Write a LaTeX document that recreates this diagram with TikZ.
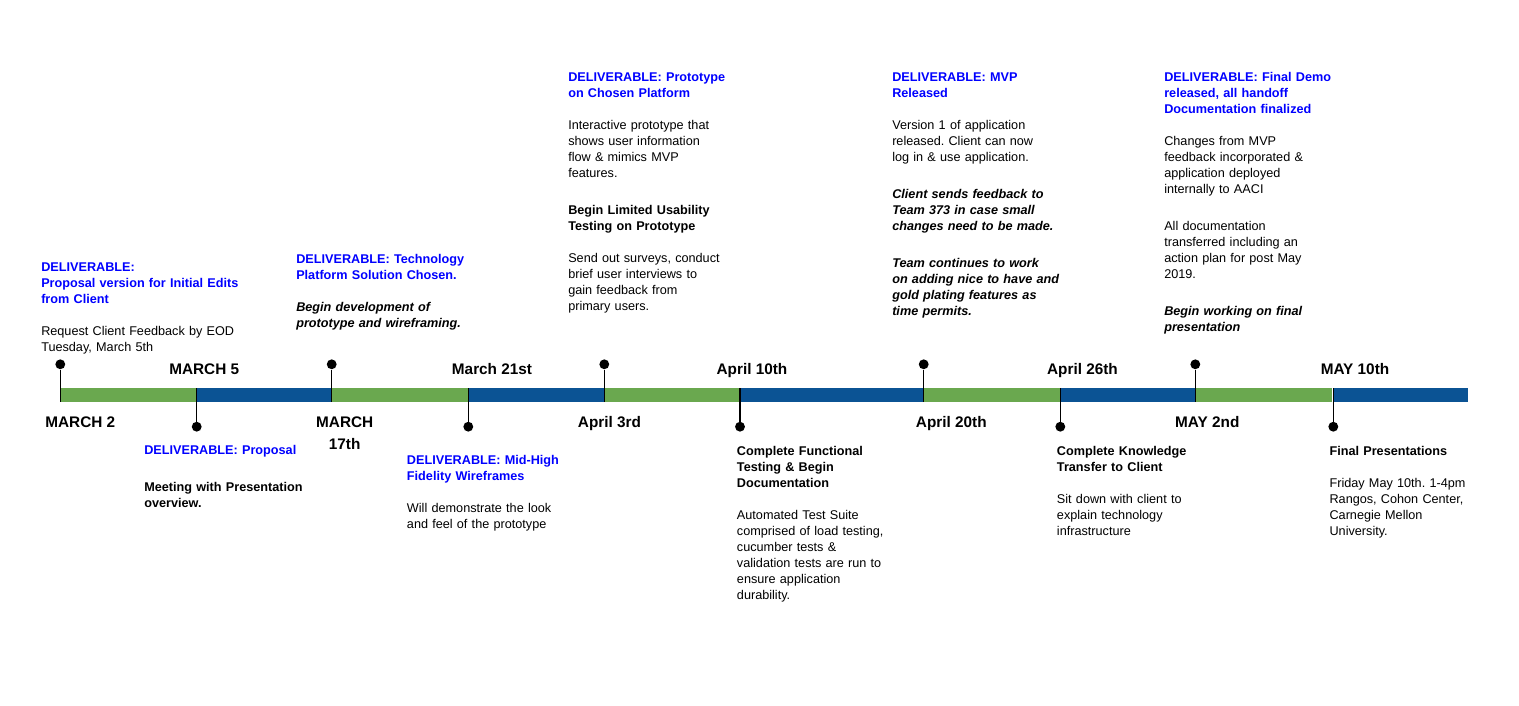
\documentclass[tikz,border=0pt]{standalone}
\usepackage{fontspec}
\setmainfont{Liberation Sans}
\usepackage{xcolor}
\usepackage{tikz}
\usetikzlibrary{positioning}
\usetikzlibrary{calc}
\definecolor{tlgreen}{HTML}{6AA84F}
\definecolor{tlblue}{HTML}{0B5394}
\definecolor{dlvblue}{HTML}{0000FF}
\newcommand{\gap}{\\[12pt]}
\newcommand{\wgap}{\\[15.75pt]}
\frenchspacing

\begin{document}
\begin{tikzpicture}[
  x=0.75pt, y=-0.75pt,
  note/.style={
    font=\fontsize{9.5}{12}\selectfont,
    align=left,
    text width=150pt,
    anchor=north west,
    inner sep=0pt},
  datelbl/.style={
    font=\fontsize{11.5}{16.5}\selectfont\bfseries,
    inner sep=0pt,
    anchor=base},
  pindot/.style={
    circle,
    fill=black,
    inner sep=0pt,
    minimum size=7.4pt},
  pinline/.style={line width=1pt},
]

  \useasboundingbox (0,0) rectangle (1519,706);

  \def\bartop{388}%
  \def\barbot{402}%

  % Timeline bar
  \foreach \from/\to/\col in {60/196.7/tlgreen, 196.7/331.7/tlblue,
      331.7/468.3/tlgreen, 468.3/604.3/tlblue, 604.3/740/tlgreen,
      740/923.7/tlblue, 923.7/1060.3/tlgreen, 1060.3/1195.3/tlblue,
      1195.3/1332.3/tlgreen, 1333.3/1468.3/tlblue} {
    \fill[\col] (\from,\bartop) rectangle (\to,\barbot);
  }

  % Pins above the bar
  \foreach \x [count=\i] in {60.3,331.7,604.3,923.7,1195.3} {
    \node[pindot] (up_pin_\i) at (\x,364.3) {};
    \coordinate (up_bar_\i) at (\x,\barbot);
    \draw[pinline] (up_pin_\i) -- (up_bar_\i);
  }
  % Pins below the bar
  \foreach \x [count=\i] in {196.7,468.3,740,1060.3,1333.3} {
    \node[pindot] (dn_pin_\i) at (\x,426.7) {};
    \coordinate (dn_bar_\i) at (\x,\bartop);
    \draw[pinline] (dn_bar_\i) -- (dn_pin_\i);
  }

  % Dates
  \foreach \x/\lbl [count=\i] in {204.2/MARCH 5, 492/March 21st,
      752/April 10th, 1082.5/April 26th, 1355/MAY 10th} {
    \node[datelbl] (date_up_\i) at (\x,374.2) {\lbl};
  }
  \foreach \x/\lbl [count=\i] in {80.3/MARCH 2, 609.5/April 3rd,
      951.3/April 20th, 1207.3/MAY 2nd} {
    \node[datelbl] (date_dn_\i) at (\x,427.2) {\lbl};
  }
  \node[datelbl, anchor=north, align=center] (date_mar17) at (344.7,416.5)
    {MARCH\\17th};

  % Notes above the bar
  \node[note] (note_edits) at (41,262.8) {{\color{dlvblue}\bfseries
    DELIVERABLE:\\ Proposal version for Initial Edits\\ from Client}\gap
    Request Client Feedback by EOD\\ Tuesday, March 5th};

  \node[note] (note_platform) at (296,253.8) {{\color{dlvblue}\bfseries
    DELIVERABLE: Technology\\ Platform Solution Chosen.}\gap
    {\bfseries\itshape Begin development of\\ prototype and wireframing.}};

  \node[note] (note_prototype) at (568,72.2) {{\color{dlvblue}\bfseries
    DELIVERABLE: Prototype\\ on Chosen Platform}\gap
    Interactive prototype that\\ shows user information\\
    flow \& mimics MVP\\ features.\wgap
    {\bfseries Begin Limited Usability\\ Testing on Prototype}\gap
    Send out surveys, conduct\\ brief user interviews to\\
    gain feedback from\\ primary users.};

  \node[note] (note_mvp) at (892,72.2) {{\color{dlvblue}\bfseries
    DELIVERABLE: MVP\\ Released}\gap
    Version 1 of application\\ released. Client can now\\
    log in \& use application.\wgap
    {\bfseries\itshape Client sends feedback to\\ Team 373 in case small\\
    changes need to be made.}\wgap
    {\bfseries\itshape Team continues to work\\ on adding nice to have and\\
    gold plating features as\\ time permits.}};

  \node[note] (note_demo) at (1164,71.8) {{\color{dlvblue}\bfseries
    DELIVERABLE: Final Demo\\ released, all handoff\\
    Documentation finalized}\gap
    Changes from MVP\\ feedback incorporated \&\\
    application deployed\\ internally to AACI\wgap
    All documentation\\ transferred including an\\
    action plan for post May\\ 2019.\wgap
    {\bfseries\itshape Begin working on final\\ presentation}};

  % Notes below the bar
  \node[note] (note_proposal) at (144,444.8) {{\color{dlvblue}\bfseries
    DELIVERABLE: Proposal}\wgap
    {\bfseries Meeting with Presentation\\ overview.}};

  \node[note] (note_wireframes) at (406.7,454.8) {{\color{dlvblue}\bfseries
    DELIVERABLE: Mid-High\\ Fidelity Wireframes}\gap
    Will demonstrate the look\\ and feel of the prototype};

  \node[note] (note_testing) at (736.7,446.2) {{\bfseries
    Complete Functional\\ Testing \& Begin\\ Documentation}\gap
    Automated Test Suite\\ comprised of load testing,\\
    cucumber tests \&\\ validation tests are run to\\
    ensure application\\ durability.};

  \node[note] (note_transfer) at (1056.7,446.2) {{\bfseries
    Complete Knowledge\\ Transfer to Client}\gap
    Sit down with client to\\ explain technology\\ infrastructure};

  \node[note] (note_final) at (1329.3,446.2) {{\bfseries
    Final Presentations}\gap
    Friday May 10th. 1-4pm\\ Rangos, Cohon Center,\\
    Carnegie Mellon\\ University.};

\end{tikzpicture}
\end{document}
